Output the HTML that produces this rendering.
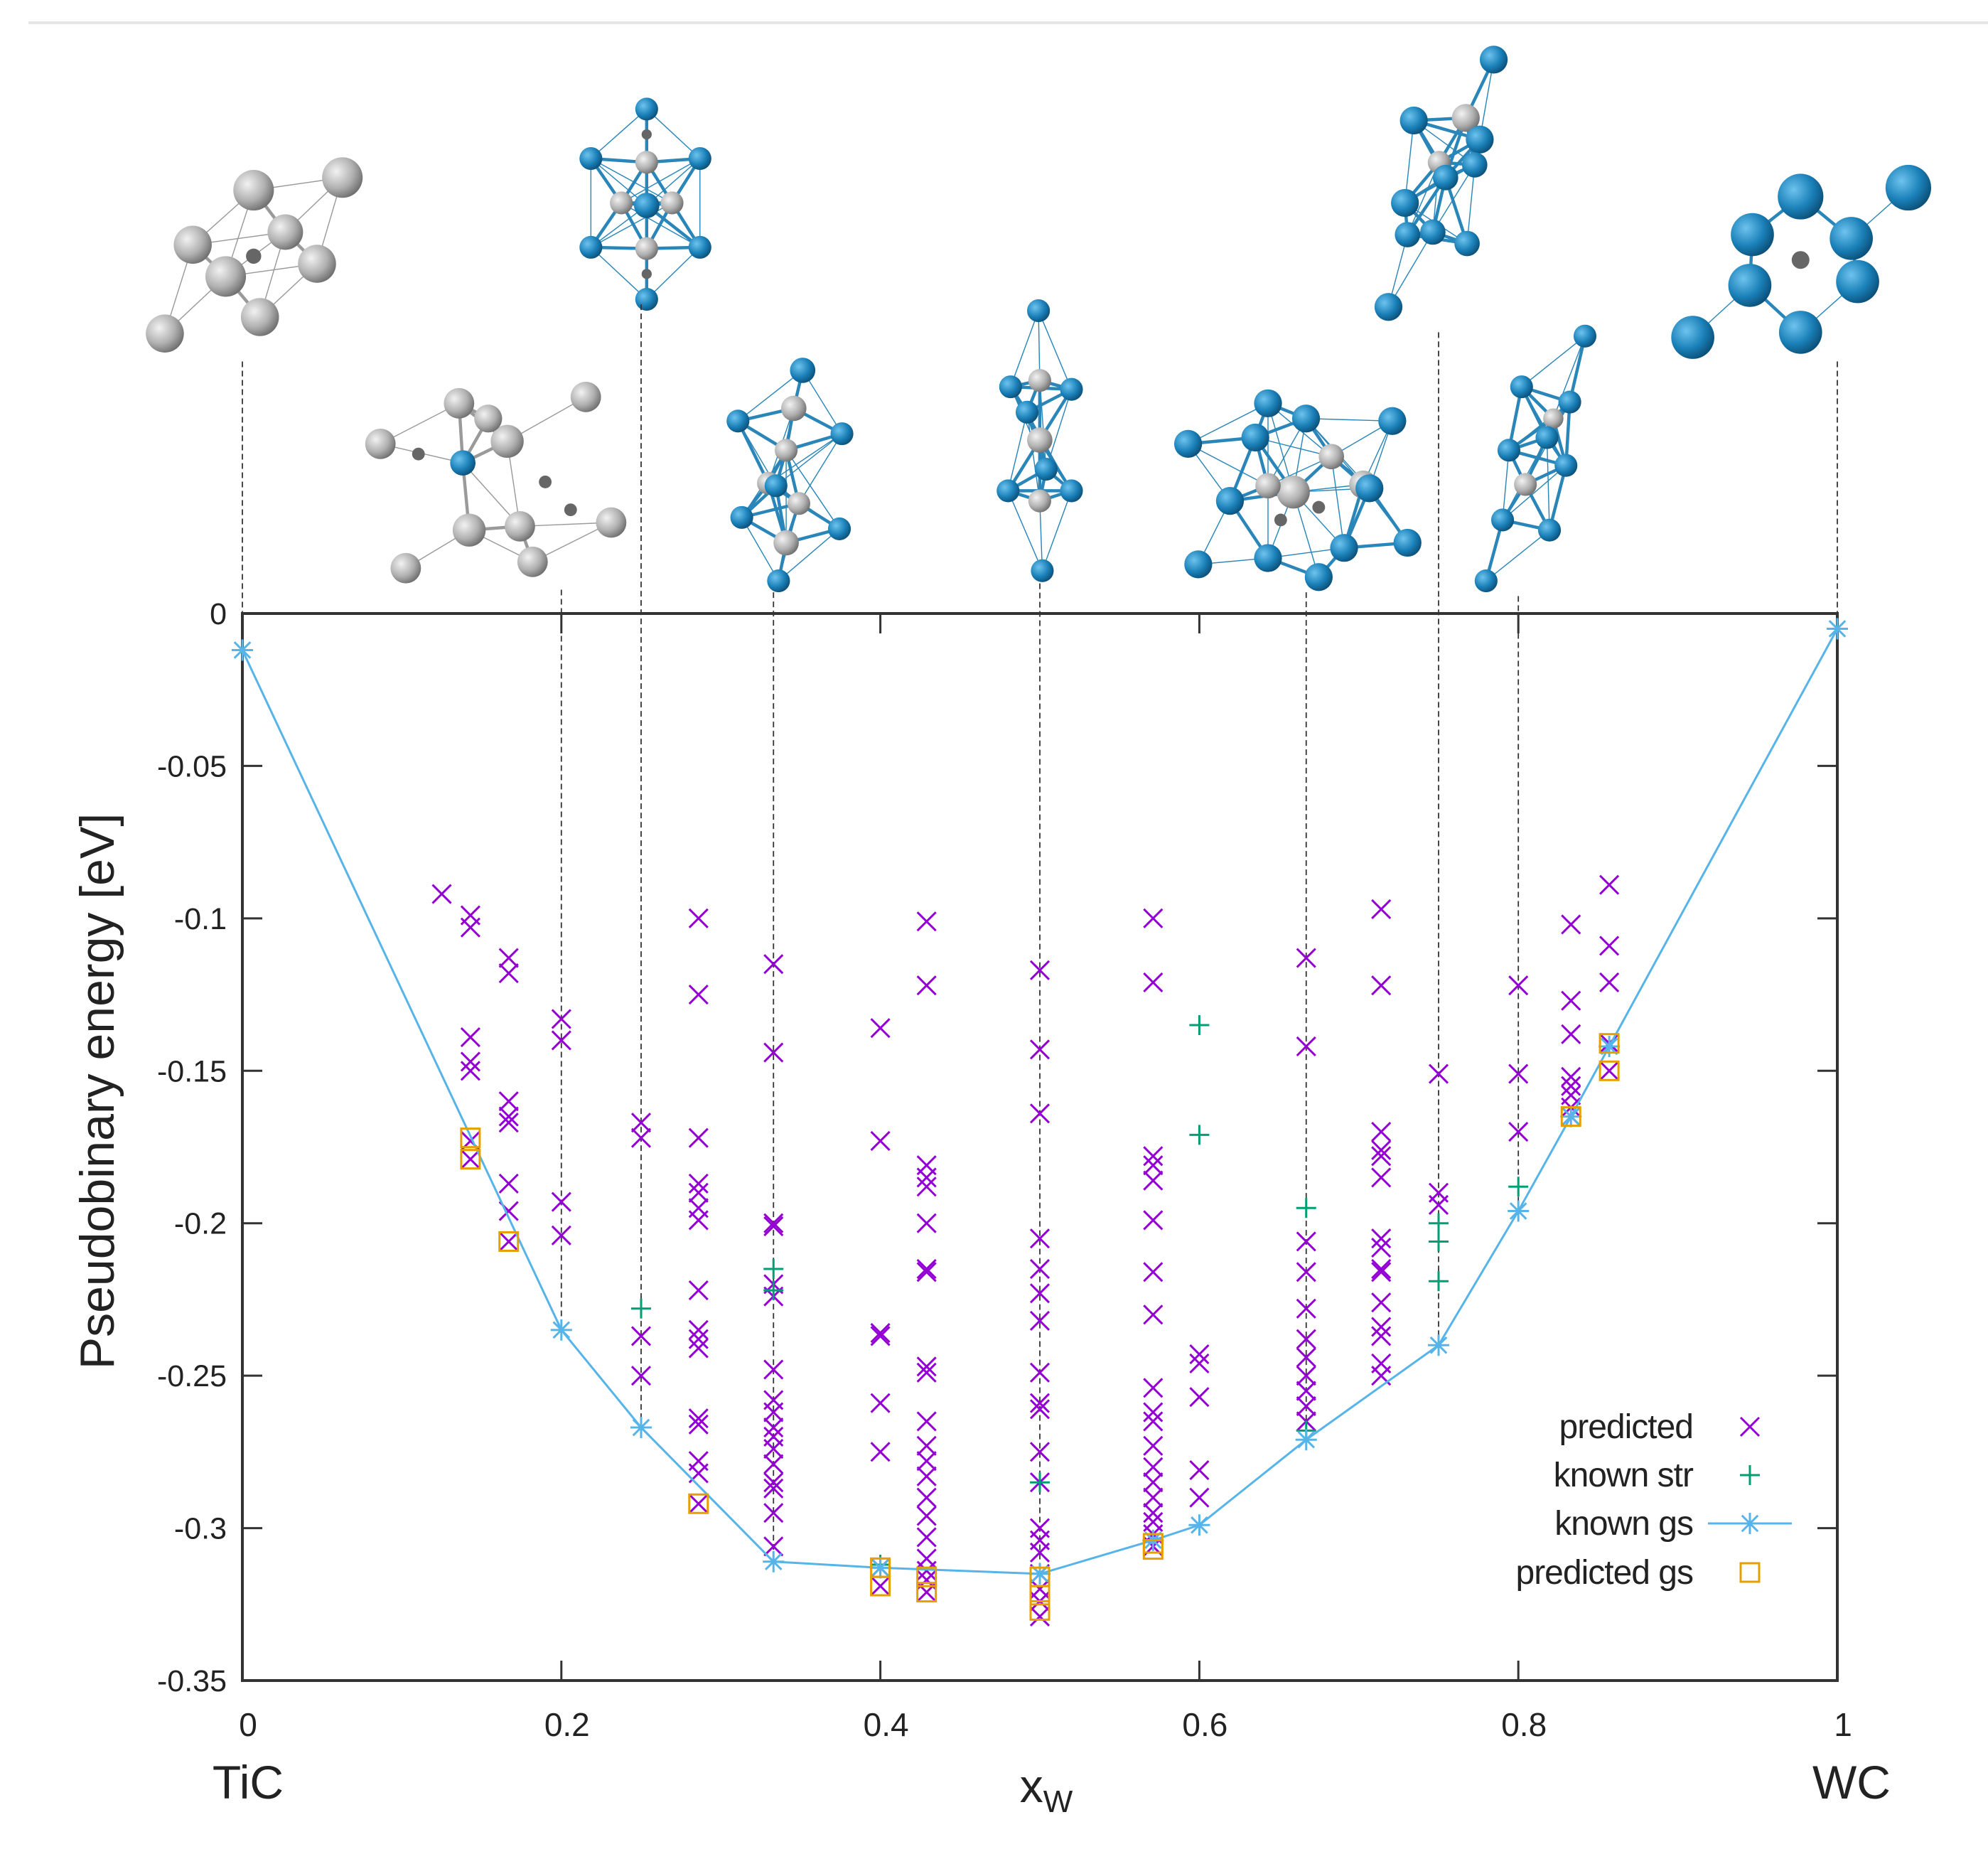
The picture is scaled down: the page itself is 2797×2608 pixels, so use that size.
<!DOCTYPE html>
<html><head><meta charset="utf-8">
<style>
html,body{margin:0;padding:0;background:#fff;}
svg{display:block;}
text{font-family:"Liberation Sans","DejaVu Sans",sans-serif;fill:#222;}
</style></head>
<body>
<svg id="chart" width="2797" height="2608" viewBox="0 0 2797 2608" xmlns="http://www.w3.org/2000/svg">
<defs>
<radialGradient id="gGray" cx="35%" cy="35%" r="70%"><stop offset="0" stop-color="#f2f2f2"/><stop offset="0.6" stop-color="#b0b0b0"/><stop offset="1" stop-color="#6e6e6e"/></radialGradient>
<radialGradient id="gBlue" cx="35%" cy="35%" r="70%"><stop offset="0" stop-color="#6ec3ee"/><stop offset="0.6" stop-color="#1a80b8"/><stop offset="1" stop-color="#0b4f78"/></radialGradient>
</defs>
<line x1="40" y1="32" x2="2797" y2="32" stroke="#e6e6e6" stroke-width="4"/>
<g id="structs" transform="scale(1.784)"></g>
<g id="guides"></g>
<g id="axes"></g>
<g id="marks"></g>
<g id="legend"></g>
</svg>
<script>
// ---- data ----
const gsX = [0, 0.2, 0.25, 0.333, 0.4, 0.5, 0.571, 0.6, 0.667, 0.75, 0.8, 0.833, 0.857, 1];
const gsY = [-0.012, -0.235, -0.267, -0.311, -0.313, -0.315, -0.304, -0.299, -0.271, -0.24, -0.196, -0.165, -0.142, -0.005];
const predComps = [0.125, 0.143, 0.167, 0.2, 0.25, 0.286, 0.333, 0.4, 0.429, 0.5, 0.571, 0.6, 0.667, 0.714, 0.75, 0.8, 0.833, 0.857];
const predEnergies = [
 [-0.092],
 [-0.099,-0.103,-0.139,-0.147,-0.150,-0.173,-0.179],
 [-0.113,-0.118,-0.160,-0.165,-0.167,-0.187,-0.196,-0.206],
 [-0.133,-0.140,-0.193,-0.204],
 [-0.167,-0.172,-0.237,-0.250],
 [-0.100,-0.125,-0.172,-0.187,-0.190,-0.195,-0.199,-0.222,-0.235,-0.238,-0.241,-0.264,-0.266,-0.278,-0.282,-0.292],
 [-0.115,-0.144,-0.200,-0.201,-0.220,-0.224,-0.248,-0.258,-0.262,-0.267,-0.270,-0.274,-0.279,-0.285,-0.287,-0.295,-0.306],
 [-0.136,-0.173,-0.236,-0.237,-0.259,-0.275,-0.313,-0.319],
 [-0.101,-0.122,-0.181,-0.185,-0.188,-0.200,-0.215,-0.216,-0.247,-0.249,-0.265,-0.273,-0.278,-0.283,-0.290,-0.296,-0.303,-0.310,-0.314,-0.317,-0.321],
 [-0.117,-0.143,-0.164,-0.205,-0.215,-0.223,-0.232,-0.249,-0.259,-0.261,-0.275,-0.285,-0.300,-0.304,-0.308,-0.315,-0.320,-0.324,-0.329],
 [-0.100,-0.121,-0.178,-0.181,-0.186,-0.199,-0.216,-0.230,-0.254,-0.262,-0.265,-0.273,-0.280,-0.285,-0.290,-0.295,-0.298,-0.302,-0.306],
 [-0.243,-0.246,-0.257,-0.281,-0.290],
 [-0.113,-0.142,-0.206,-0.216,-0.228,-0.238,-0.244,-0.250,-0.255,-0.260,-0.265],
 [-0.097,-0.122,-0.170,-0.176,-0.178,-0.185,-0.205,-0.208,-0.215,-0.216,-0.226,-0.234,-0.237,-0.246,-0.250],
 [-0.151,-0.190,-0.194],
 [-0.122,-0.151,-0.170],
 [-0.102,-0.127,-0.138,-0.152,-0.155,-0.158,-0.162,-0.165],
 [-0.089,-0.109,-0.121,-0.141,-0.150]
];
const strX = [0.25,0.333,0.333,0.4,0.5,0.6,0.6,0.667,0.667,0.75,0.75,0.75,0.8];
const strY = [-0.228,-0.215,-0.222,-0.312,-0.285,-0.135,-0.171,-0.195,-0.268,-0.200,-0.206,-0.219,-0.188];
const pgsX = [0.143,0.143,0.167,0.286,0.4,0.4,0.429,0.429,0.5,0.5,0.5,0.571,0.571,0.833,0.857,0.857];
const pgsY = [-0.172,-0.179,-0.206,-0.292,-0.313,-0.319,-0.316,-0.321,-0.316,-0.322,-0.327,-0.305,-0.307,-0.165,-0.141,-0.150];
const xTicks = [0,0.2,0.4,0.6,0.8,1];
const xTickLabels = ["0","0.2","0.4","0.6","0.8","1"];
const yTicks = [0,-0.05,-0.1,-0.15,-0.2,-0.25,-0.3,-0.35];
const yTickLabels = ["0","-0.05","-0.1","-0.15","-0.2","-0.25","-0.3","-0.35"];

// ---- scales ----
const L=341,R=2585,T=863,B=2364;
const sx = v => L + v*(R-L);
const sy = v => T + (v/-0.35)*(B-T);
const NS="http://www.w3.org/2000/svg";
function mk(tag, attrs, parent){const e=document.createElementNS(NS,tag);for(const k in attrs)e.setAttribute(k,attrs[k]);parent.appendChild(e);return e;}

// ---- structures (decorative, thumbnail coords) ----
const sg=document.getElementById('structs');
const structs=[
 {g:[[130,263,15],[152,193,15],[200,150,16],[270,140,16],[250,208,15],[178,218,16],[205,250,15],[225,183,14]],b:[],s:[[200,202,6]]},
 {g:[[300,350,12],[362,318,12],[462,313,12],[482,412,12],[420,443,12],[320,448,12],[400,348,13],[370,418,13],[410,415,12],[385,330,11]],b:[[365,365,10]],s:[[330,358,5],[450,402,5],[430,380,5]]},
 {g:[[490,160,9],[530,160,9],[510,128,9],[510,196,9]],b:[[510,86,9],[466,125,9],[552,125,9],[466,195,9],[552,195,9],[510,236,9],[510,162,10]],s:[[510,106,4],[510,216,4]]},
 {g:[[626,322,10],[620,355,9],[606,381,9],[630,397,9],[620,428,10]],b:[[633,292,10],[582,332,9],[664,342,9],[612,383,9],[585,408,9],[662,417,9],[614,458,9]],s:[]},
 {g:[[820,300,9],[820,347,10],[820,395,9]],b:[[819,245,9],[797,305,9],[845,307,9],[810,325,9],[825,370,9],[795,387,9],[845,387,9],[822,450,9]],s:[]},
 {g:[[1020,388,13],[1075,382,11],[1050,360,10],[1000,383,10]],b:[[937,350,11],[1000,318,11],[1098,332,11],[970,395,11],[1110,428,11],[945,445,11],[1000,440,11],[1040,455,11],[1060,432,11],[990,345,11],[1030,330,11],[1080,385,11]],s:[[1040,400,5],[1010,410,5]]},
 {g:[[1156,93,11],[1135,128,9]],b:[[1178,47,11],[1115,95,11],[1167,110,11],[1108,160,11],[1140,140,10],[1130,183,10],[1157,192,10],[1095,242,11],[1163,130,10],[1110,185,10]],s:[]},
 {g:[[1203,382,9],[1225,330,8]],b:[[1250,265,9],[1200,305,9],[1238,317,9],[1190,355,9],[1220,345,9],[1235,367,9],[1185,410,9],[1222,418,9],[1172,458,9]],s:[]},
 {g:[],b:[[1335,266,17],[1420,155,18],[1505,148,18],[1382,185,17],[1460,188,17],[1380,225,17],[1465,222,17],[1420,262,17]],s:[[1420,205,7]]}
];
structs.forEach((st,i)=>{
  const grp=mk('g',{},sg);
  
  
  const all=st.g.concat(st.b);
  const col = st.b.length>st.g.length ? '#2a86b8' : '#9a9a9a';
  for(let a=0;a<all.length;a++)for(let c=a+1;c<all.length;c++){
    const d=Math.hypot(all[a][0]-all[c][0],all[a][1]-all[c][1]);
    if(d<75) mk('line',{x1:all[a][0],y1:all[a][1],x2:all[c][0],y2:all[c][1],stroke:col,'stroke-width':d<55?2.5:0.8},grp);
  }
  st.g.forEach(p=>mk('circle',{cx:p[0],cy:p[1],r:p[2],fill:'url(#gGray)'},grp));
  st.b.forEach(p=>mk('circle',{cx:p[0],cy:p[1],r:p[2],fill:'url(#gBlue)'},grp));
  st.s.forEach(p=>mk('circle',{cx:p[0],cy:p[1],r:p[2],fill:'#666'},grp));
});

// ---- guide lines (structure to ground state) ----
const guideX=[0,0.2,0.25,0.333,0.5,0.667,0.75,0.8,1];
const guideTop=[285,465,240,467,460,467,262,470,285];
const gd=document.getElementById('guides');
guideX.forEach((gx,i)=>{
  const k=gsX.indexOf(gx);
  const l=mk('line',{x1:sx(gx),x2:sx(gx),y1:guideTop[i]*1.784,y2:sy(gsY[k]),stroke:'#333','stroke-width':1.8,'stroke-dasharray':'8 5'},gd);
  
  
});

// ---- axes ----
const ax=document.getElementById('axes');
const frame=mk('rect',{x:L,y:T,width:R-L,height:B-T,fill:'none',stroke:'#333','stroke-width':4},ax);


yTicks.forEach((v,i)=>{
  mk('line',{x1:L,x2:L+28,y1:sy(v),y2:sy(v),stroke:'#333','stroke-width':3},ax);
  mk('line',{x1:R,x2:R-28,y1:sy(v),y2:sy(v),stroke:'#333','stroke-width':3},ax);
  const t=mk('text',{x:L-22,y:sy(v)+15,'text-anchor':'end','font-size':43},ax);
  t.textContent=yTickLabels[i];
  
  
});
xTicks.forEach((v,i)=>{
  mk('line',{x1:sx(v),x2:sx(v),y1:B,y2:B-28,stroke:'#333','stroke-width':3},ax);
  mk('line',{x1:sx(v),x2:sx(v),y1:T,y2:T+28,stroke:'#333','stroke-width':3},ax);
  const t=mk('text',{x:sx(v)+8,y:B+78,'text-anchor':'middle','font-size':46},ax);
  t.textContent=xTickLabels[i];
  
  
});
let t;
t=mk('text',{x:sx(0)+8,y:2530,'text-anchor':'middle','font-size':66},ax);t.textContent='TiC';

t=mk('text',{x:sx(1)+20,y:2530,'text-anchor':'middle','font-size':66},ax);t.textContent='WC';

t=mk('text',{x:1472,y:2535,'text-anchor':'middle','font-size':66},ax);
t.innerHTML='x<tspan font-size="44" dy="14">W</tspan>';

t=mk('text',{x:0,y:0,'text-anchor':'middle','font-size':68,transform:'translate(160,1535) rotate(-90)'},ax);
t.textContent='Pseudobinary energy [eV]';


// ---- marks ----
const mg=document.getElementById('marks');
function cross(x,y,c,parent,s){mk('path',{d:`M${x-s} ${y-s}L${x+s} ${y+s}M${x-s} ${y+s}L${x+s} ${y-s}`,stroke:c,'stroke-width':3,fill:'none'},parent);}
function plus(x,y,c,parent,s){mk('path',{d:`M${x-s} ${y}L${x+s} ${y}M${x} ${y-s}L${x} ${y+s}`,stroke:c,'stroke-width':3,fill:'none'},parent);}
function star(x,y,c,parent,s){mk('path',{d:`M${x-s} ${y}L${x+s} ${y}M${x} ${y-s}L${x} ${y+s}M${x-s*.75} ${y-s*.75}L${x+s*.75} ${y+s*.75}M${x-s*.75} ${y+s*.75}L${x+s*.75} ${y-s*.75}`,stroke:c,'stroke-width':3,fill:'none'},parent);}

predComps.forEach((c,i)=>{
  predEnergies[i].forEach(e=>{
    const g=mk('g',{},mg);
    
    
    cross(sx(c),sy(e),'#9400d3',g,13);
  });
});
strX.forEach((c,i)=>{
  const g=mk('g',{},mg);
  
  
  plus(sx(c),sy(strY[i]),'#009e73',g,14);
});
const line=mk('polyline',{points:gsX.map((v,i)=>sx(v)+','+sy(gsY[i])).join(' '),fill:'none',stroke:'#56b4e9','stroke-width':3},mg);


gsX.forEach((v,i)=>{
  const g=mk('g',{},mg);
  
  
  star(sx(v),sy(gsY[i]),'#56b4e9',g,15);
});
pgsX.forEach((v,i)=>{
  const r=mk('rect',{x:sx(v)-13,y:sy(pgsY[i])-13,width:26,height:26,fill:'none',stroke:'#e69f00','stroke-width':3},mg);
  
  
});

// ---- legend ----
const lg=document.getElementById('legend');
const legLabels=['predicted','known str','known gs','predicted gs'];
const legY=[2007,2075,2143,2212];
legLabels.forEach((lab,i)=>{
  const g=mk('g',{},lg);
  
  
  const tt=mk('text',{x:2382,y:legY[i]+16,'text-anchor':'end','font-size':48,'letter-spacing':'-1'},g);
  tt.textContent=lab;
  const mx=2462,my=legY[i];
  if(i===0) cross(mx,my,'#9400d3',g,13);
  if(i===1) plus(mx,my,'#009e73',g,14);
  if(i===2){mk('line',{x1:2403,x2:2521,y1:my,y2:my,stroke:'#56b4e9','stroke-width':3},g);star(mx,my,'#56b4e9',g,15);}
  if(i===3) mk('rect',{x:mx-13,y:my-13,width:26,height:26,fill:'none',stroke:'#e69f00','stroke-width':3},g);
});
</script>
</body></html>
